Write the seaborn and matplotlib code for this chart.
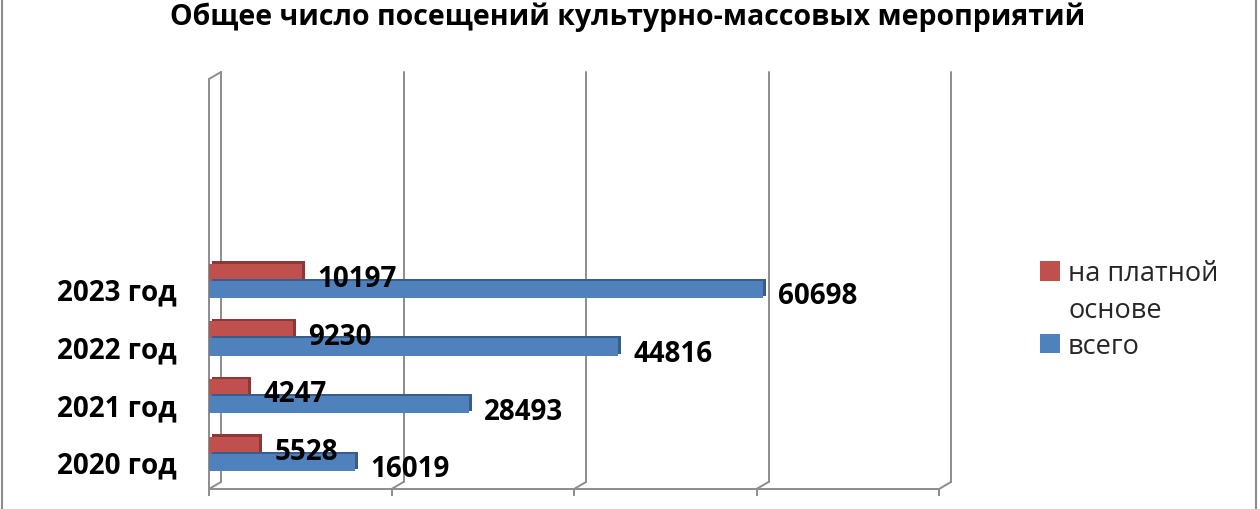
import matplotlib
matplotlib.use("Agg")
import matplotlib.pyplot as plt
import matplotlib.patheffects as pe
import matplotlib.transforms as mtransforms
from matplotlib.patches import Patch, Rectangle
import pandas as pd
import seaborn as sns

# данные
years = ["2020 год", "2021 год", "2022 год", "2023 год"]
paid = [5528, 4247, 9230, 10197]
total = [16019, 28493, 44816, 60698]
series_names = ["на платной основе", "всего"]
legend_lines = ["на платной", "основе", "всего"]
colors = ["#C0504D", "#4F81BD"]
dark_colors = ["#8C3836", "#385D8A"]
x_ticks = [0, 20000, 40000, 60000, 80000]

title = "Общее число посещений культурно-массовых мероприятий"

df = pd.DataFrame({
    "год": years * 2,
    "серия": [series_names[0]] * len(years) + [series_names[1]] * len(years),
    "значение": paid + total,
})

sns.set_theme(style="white")
plt.rcParams["font.family"] = ["Open Sans", "DejaVu Sans"]

W, H = 1260, 510
fig = plt.figure(figsize=(12.6, 5.1), dpi=100)
# передняя плоскость оси
ax = fig.add_axes([209 / W, (H - 490) / H, (939 - 209) / W, (490 - 80) / H])

sns.barplot(data=df, y="год", x="значение", hue="серия", order=years[::-1],
            hue_order=series_names, palette=colors, orient="h", width=0.6,
            saturation=1, ax=ax, legend=False)

ax.set_xlim(0, 80000)
ax.set_ylim(3.61, -3.50)
ax.set_xlabel("")
ax.set_ylabel("")

# псевдо-3D: тень сверху и справа
for cont, dc in zip(ax.containers, dark_colors):
    for p in cont:
        p.set_edgecolor("none")
        p.set_linewidth(0)
        p.set_path_effects([pe.SimplePatchShadow(offset=(2, 1.5), shadow_rgbFace=dc, alpha=1),
                            pe.Normal()])
    texts = ax.bar_label(cont, padding=11, fontsize=20, fontweight="bold", color="black")
    for t in texts:
        t.xyann = (11, -4.5)

for s in ax.spines.values():
    s.set_visible(False)

grid_c = "#8C8C8C"
# задняя стенка и сетка
back = mtransforms.offset_copy(ax.get_xaxis_transform(), fig=fig, x=12, y=7, units="dots")
for v in x_ticks:
    ax.plot([v, v], [0, 1], color=grid_c, lw=1.4, transform=back, clip_on=False, zorder=0)
    # диагональ к передней кромке
    ax.annotate("", xy=(v, 0), xycoords=ax.get_xaxis_transform(),
                xytext=(v, 0), textcoords=back,
                arrowprops=dict(arrowstyle="-", color=grid_c, lw=1.4, shrinkA=0, shrinkB=0))
ax.annotate("", xy=(0, 1), xycoords=ax.get_xaxis_transform(),
            xytext=(0, 1), textcoords=back,
            arrowprops=dict(arrowstyle="-", color=grid_c, lw=1.4, shrinkA=0, shrinkB=0))
ax.plot([0, 0], [0, 1], color=grid_c, lw=1.4, transform=ax.get_xaxis_transform(),
        clip_on=False, zorder=0)
ax.plot([0, 80000], [0, 0], color=grid_c, lw=1.4, transform=ax.get_xaxis_transform(),
        clip_on=False, zorder=0)

ax.set_xticks(x_ticks)
ax.set_xticklabels([])
ax.tick_params(axis="x", bottom=True, length=5, width=1.4, color=grid_c, direction="out")
ax.tick_params(axis="y", left=False, length=0, pad=23)
for lbl in ax.get_yticklabels():
    lbl.set_fontsize(20)
    lbl.set_fontweight("bold")
    lbl.set_color("black")
    lbl.set_transform(lbl.get_transform() + mtransforms.ScaledTranslation(0, -8 / 100, fig.dpi_scale_trans))

# легенда: подпись первой серии в две строки, квадрат у первой строки
handles = [Patch(facecolor=colors[0], edgecolor="none"),
           Patch(facecolor="none", edgecolor="none"),
           Patch(facecolor=colors[1], edgecolor="none")]
fig.legend(handles, legend_lines, loc="upper left",
           bbox_to_anchor=(1016 / W, 1 - 236 / H),
           bbox_transform=fig.transFigure, frameon=False, fontsize=19.5,
           handlelength=0.72, handleheight=0.72, handletextpad=0.3, labelspacing=0.3)

fig.text(628 / W, 1 - 17 / H, title, ha="center", va="center", fontsize=20.5,
         fontweight="bold", color="black")

fig.patches.append(Rectangle((1.5 / W, -0.1), (1256 - 1.5) / W, 1.2, transform=fig.transFigure,
                             fill=False, edgecolor="#8C8C8C", lw=1.5))

fig.savefig("out.png", dpi=100)
